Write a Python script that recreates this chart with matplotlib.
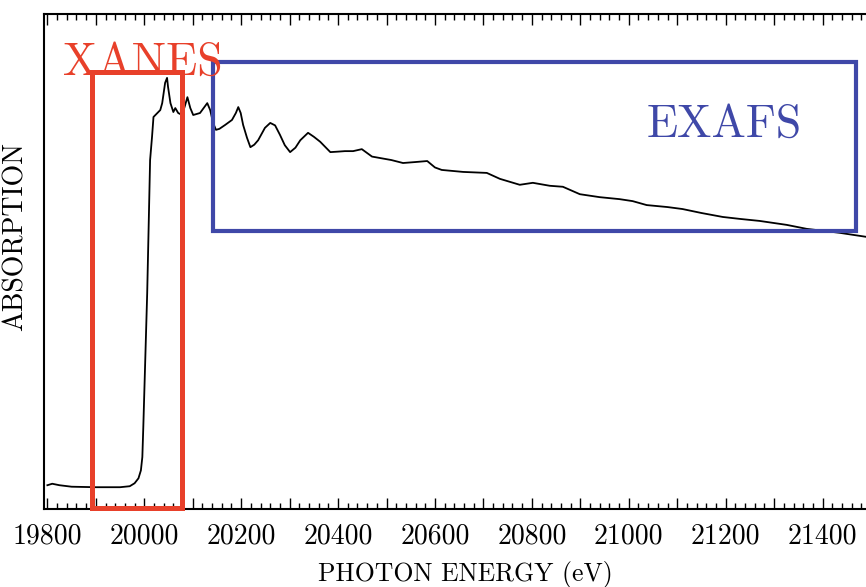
"""
XAS spectrum with XANES / EXAFS regions marked.
"""

import matplotlib
matplotlib.use('Agg')
import matplotlib.pyplot as plt
from matplotlib.patches import Rectangle
from matplotlib.ticker import MultipleLocator, FixedLocator

# Data (photon energy in eV, normalised absorption)
energy = [19800, 19810, 19825, 19850, 19900, 19950, 19970, 19980, 19988, 19993,
          19996, 19998, 20002, 20006, 20009, 20012, 20016, 20019, 20027, 20033,
          20037, 20043, 20047, 20049, 20054, 20060, 20064, 20070, 20078, 20084,
          20089, 20095, 20101, 20115, 20130, 20136, 20142, 20148, 20155, 20167,
          20181, 20189, 20194, 20199, 20204, 20212, 20219, 20227, 20235, 20249,
          20260, 20270, 20280, 20290, 20301, 20312, 20322, 20338, 20350, 20363,
          20384, 20400, 20414, 20431, 20449, 20470, 20487, 20510, 20534, 20560,
          20584, 20600, 20614, 20658, 20707, 20734, 20775, 20802, 20837, 20864,
          20899, 20940, 20981, 21008, 21037, 21080, 21111, 21150, 21194, 21230,
          21270, 21326, 21367, 21435, 21489]
absorption = [0.048, 0.051, 0.048, 0.045, 0.044, 0.044, 0.046, 0.052, 0.062, 0.078,
              0.105, 0.166, 0.301, 0.436, 0.570, 0.705, 0.752, 0.792, 0.800, 0.806,
              0.820, 0.861, 0.871, 0.853, 0.820, 0.802, 0.810, 0.800, 0.796, 0.815,
              0.832, 0.810, 0.796, 0.800, 0.820, 0.806, 0.780, 0.766, 0.768, 0.776,
              0.786, 0.800, 0.812, 0.800, 0.776, 0.750, 0.731, 0.736, 0.745, 0.770,
              0.780, 0.775, 0.756, 0.735, 0.721, 0.730, 0.745, 0.760, 0.752, 0.742,
              0.721, 0.722, 0.723, 0.723, 0.727, 0.712, 0.709, 0.705, 0.699, 0.701,
              0.703, 0.690, 0.685, 0.681, 0.679, 0.667, 0.655, 0.659, 0.653, 0.651,
              0.636, 0.630, 0.626, 0.622, 0.614, 0.610, 0.606, 0.598, 0.590, 0.586,
              0.582, 0.574, 0.566, 0.558, 0.550]

# Labelled ticks on the energy axis
tick_labels = [19800, 20000, 20200, 20400, 20600, 20800, 21000, 21200, 21400]

# Region boxes (energy range, absorption range)
xanes_box = (19893, 20078, 0.002, 0.883)
exafs_box = (20142, 21470, 0.562, 0.903)

RED = '#e8402a'
BLUE = '#3f48a8'

plt.rcParams['font.family'] = 'cmr10'
plt.rcParams['axes.formatter.use_mathtext'] = True

fig = plt.figure(figsize=(8.66, 5.87), dpi=100)
ax = fig.add_axes([0.0508, 0.1329, 0.955, 0.8432])

ax.plot(energy, absorption, color='black', lw=1.3, zorder=2)

# XANES box
x0, x1, y0, y1 = xanes_box
ax.add_patch(Rectangle((x0, y0), x1 - x0, y1 - y0, fill=False,
                       edgecolor=RED, lw=3.6, zorder=3, clip_on=False))
# EXAFS box
x0, x1, y0, y1 = exafs_box
ax.add_patch(Rectangle((x0, y0), x1 - x0, y1 - y0, fill=False,
                       edgecolor=BLUE, lw=3.0, zorder=3, clip_on=False))

ax.text(19833, 0.877, 'XANES', color=RED, fontsize=33,
        ha='left', va='baseline', zorder=4)
ax.text(21037, 0.752, 'EXAFS', color=BLUE, fontsize=33,
        ha='left', va='baseline', zorder=4)

ax.set_xlim(19793, 21500)
ax.set_ylim(0, 1)

# ticks: major every 100 eV (labelled every 200), minor every 20 eV
majors = list(range(19800, 21501, 100))
ax.xaxis.set_major_locator(FixedLocator(majors))
ax.set_xticklabels([str(m) if m in tick_labels else '' for m in majors])
ax.xaxis.set_minor_locator(MultipleLocator(20))
ax.tick_params(axis='x', which='both', direction='in', top=True, bottom=True,
               labelsize=20, width=1.0, pad=10)
ax.tick_params(axis='x', which='major', length=8)
ax.tick_params(axis='x', which='minor', length=4)
ax.set_yticks([])

for s in ax.spines.values():
    s.set_linewidth(1.5)
ax.spines['right'].set_visible(False)

ax.set_xlabel('PHOTON ENERGY (eV)', fontsize=18.5)
ax.xaxis.set_label_coords(0.51, -0.105)
ax.set_ylabel('ABSORPTION', fontsize=20)
ax.yaxis.set_label_coords(-0.018, 0.55)

fig.savefig('out.png', dpi=100)
